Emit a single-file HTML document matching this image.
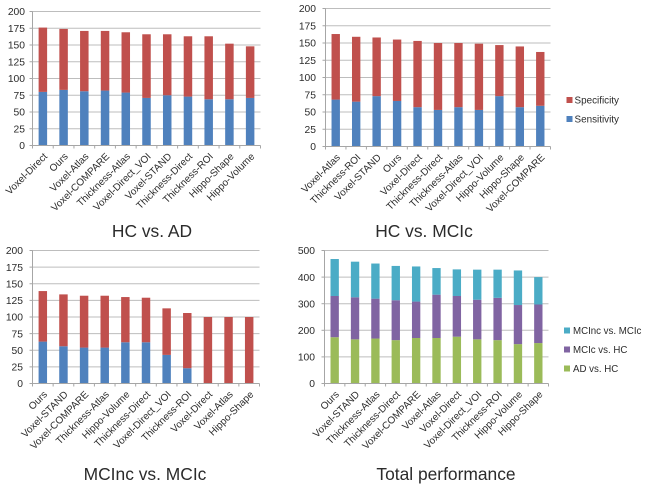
<!DOCTYPE html>
<html>
<head>
<meta charset="utf-8">
<style>
html,body{margin:0;padding:0;background:#fff;}
svg{display:block;position:absolute;left:0;top:0;}
text{font-family:"Liberation Sans",sans-serif;fill:#2b2b2b;}
</style>
</head>
<body>
<svg id="figure" width="645" height="489" viewBox="0 0 645 489" xmlns="http://www.w3.org/2000/svg">
<g id="c1"></g>
<g id="c2"></g>
<g id="c3"></g>
<g id="c4"></g>
<g id="legend-a">
<rect x="566.5" y="97" width="6" height="6" fill="#c0504d"></rect>
<text x="574.5" y="103.5" font-size="9.9">Specificity</text>
<rect x="566.5" y="116" width="6" height="6" fill="#4f81bd"></rect>
<text x="574.5" y="122.5" font-size="9.9">Sensitivity</text>
</g>
<g id="legend-b">
<rect x="564" y="327.5" width="6" height="6" fill="#4bacc6"></rect>
<text x="573" y="334" font-size="9.7">MCInc vs. MCIc</text>
<rect x="564" y="346.5" width="6" height="6" fill="#8064a2"></rect>
<text x="573" y="353" font-size="9.7">MCIc vs. HC</text>
<rect x="564" y="365.5" width="6" height="6" fill="#9bbb59"></rect>
<text x="573" y="372" font-size="9.7">AD vs. HC</text>
</g>
</svg>
<script>
const categoriesA = ["Voxel-Direct","Ours","Voxel-Atlas","Voxel-COMPARE","Thickness-Atlas","Voxel-Direct_VOI","Voxel-STAND","Thickness-Direct","Thickness-ROI","Hippo-Shape","Hippo-Volume"];
const sensitivityA = [80,83,81,82,79,71,75,73,69,69,71];
const specificityA = [96,91,90,89,90,95,91,90,94,83,77];

const categoriesB = ["Voxel-Atlas","Thickness-ROI","Voxel-STAND","Ours","Voxel-Direct","Thickness-Direct","Thickness-Atlas","Voxel-Direct_VOI","Hippo-Volume","Hippo-Shape","Voxel-COMPARE"];
const sensitivityB = [68,65,73,66,57,53,57,53,73,57,59];
const specificityB = [95,94,85,89,96,97,93,96,74,88,78];

const categoriesC = ["Ours","Voxel-STAND","Voxel-COMPARE","Thickness-Atlas","Hippo-Volume","Thickness-Direct","Voxel-Direct_VOI","Thickness-ROI","Voxel-Direct","Voxel-Atlas","Hippo-Shape"];
const sensitivityC = [63,56,54,54,62,62,43,23,0,0,0];
const specificityC = [76,78,78,78,68,67,70,83,100,100,100];

const categoriesD = ["Ours","Voxel-STAND","Thickness-Atlas","Thickness-Direct","Voxel-COMPARE","Voxel-Atlas","Voxel-Direct","Voxel-Direct_VOI","Thickness-ROI","Hippo-Volume","Hippo-Shape"];
const adVsHc = [174,166,169,163,171,171,176,166,163,148,152];
const mcicVsHc = [155,158,150,150,137,163,153,149,159,147,145];
const mcincVsMcic = [139,134,132,129,132,100,100,113,106,130,103];

const ticksPerformance = [0,25,50,75,100,125,150,175,200];
const ticksTotal = [0,100,200,300,400,500];

const NS = "http://www.w3.org/2000/svg";

function make(parent, tag, attrs) {
  const el = document.createElementNS(NS, tag);
  for (const k in attrs) el.setAttribute(k, attrs[k]);
  parent.appendChild(el);
  return el;
}

function drawChart(id, box, categories, seriesList, colors, names, ticks, title, titleX, titleY) {
  const root = document.getElementById(id);
  const maxV = ticks[ticks.length - 1];
  const yScale = function (v) { return box.y0 - (v / maxV) * (box.y0 - box.y1); };
  const band = (box.x1 - box.x0) / categories.length;
  const xScale = function (i) { return box.x0 + band * (i + 0.5); };
  const barW = band * 0.41;

  ticks.forEach(function (t) {
    const y = yScale(t);
    if (t !== 0) {
      const grid = make(root, "line", {x1: box.x0, x2: box.x1, y1: y, y2: y, stroke: "#bdbdbd", "stroke-width": 1});
      
      
    }
    const tm = make(root, "line", {x1: box.x0 - 3, x2: box.x0, y1: y, y2: y, stroke: "#a6a6a6", "stroke-width": 1});
    
    
    const lab = make(root, "text", {x: box.x0 - box.pad, y: y + 3.7, "text-anchor": "end", "font-size": 10.3});
    lab.textContent = String(t);
    
    
  });

  categories.forEach(function (c, i) {
    let acc = 0;
    seriesList.forEach(function (s, si) {
      const v = s[i];
      const top = yScale(acc + v);
      const bottom = yScale(acc);
      const bar = make(root, "rect", {x: xScale(i) - barW / 2, y: top, width: barW, height: Math.max(0, bottom - top), fill: colors[si]});
      
      
      acc += v;
    });
    const tx = xScale(i) + 5;
    const ty = box.y0 + 11.5;
    const lab = make(root, "text", {x: tx, y: ty, "text-anchor": "end", "font-size": 10, transform: "rotate(-45 " + tx + " " + ty + ")"});
    lab.textContent = c;
    
    
  });

  const yAxis = make(root, "line", {x1: box.x0, x2: box.x0, y1: box.y1, y2: box.y0, stroke: "#a6a6a6", "stroke-width": 1});
  
  
  const xAxis = make(root, "line", {x1: box.x0, x2: box.x1, y1: box.y0, y2: box.y0, stroke: "#a6a6a6", "stroke-width": 1});
  
  
  for (let i = 0; i <= categories.length; i++) {
    const xt = box.x0 + band * i;
    const tm = make(root, "line", {x1: xt, x2: xt, y1: box.y0, y2: box.y0 + 3, stroke: "#a6a6a6", "stroke-width": 1});
    
    
  }

  const t = make(root, "text", {x: titleX, y: titleY, "text-anchor": "middle", "font-size": 17.4});
  t.textContent = title;
  
  
}

const perfColors = ["#4f81bd", "#c0504d"];
const perfNames = ["sensitivity", "specificity"];

drawChart("c1", {x0: 32.5, x1: 260.5, y0: 145.5, y1: 11.5, pad: 7.5}, categoriesA, [sensitivityA, specificityA], perfColors, perfNames, ticksPerformance, "HC vs. AD", 152, 237);
drawChart("c2", {x0: 325.5, x1: 550.5, y0: 146.5, y1: 8.5, pad: 9.5}, categoriesB, [sensitivityB, specificityB], perfColors, perfNames, ticksPerformance, "HC vs. MCIc", 424, 237);
drawChart("c3", {x0: 32.5, x1: 259.5, y0: 383.5, y1: 250.5, pad: 9.5}, categoriesC, [sensitivityC, specificityC], perfColors, perfNames, ticksPerformance, "MCInc vs. MCIc", 145, 480);
drawChart("c4", {x0: 324.5, x1: 548.5, y0: 383.5, y1: 250.5, pad: 9.5}, categoriesD, [adVsHc, mcicVsHc, mcincVsMcic], ["#9bbb59", "#8064a2", "#4bacc6"], ["ad-vs-hc", "mcic-vs-hc", "mcinc-vs-mcic"], ticksTotal, "Total performance", 446, 480);
</script>
</body>
</html>
